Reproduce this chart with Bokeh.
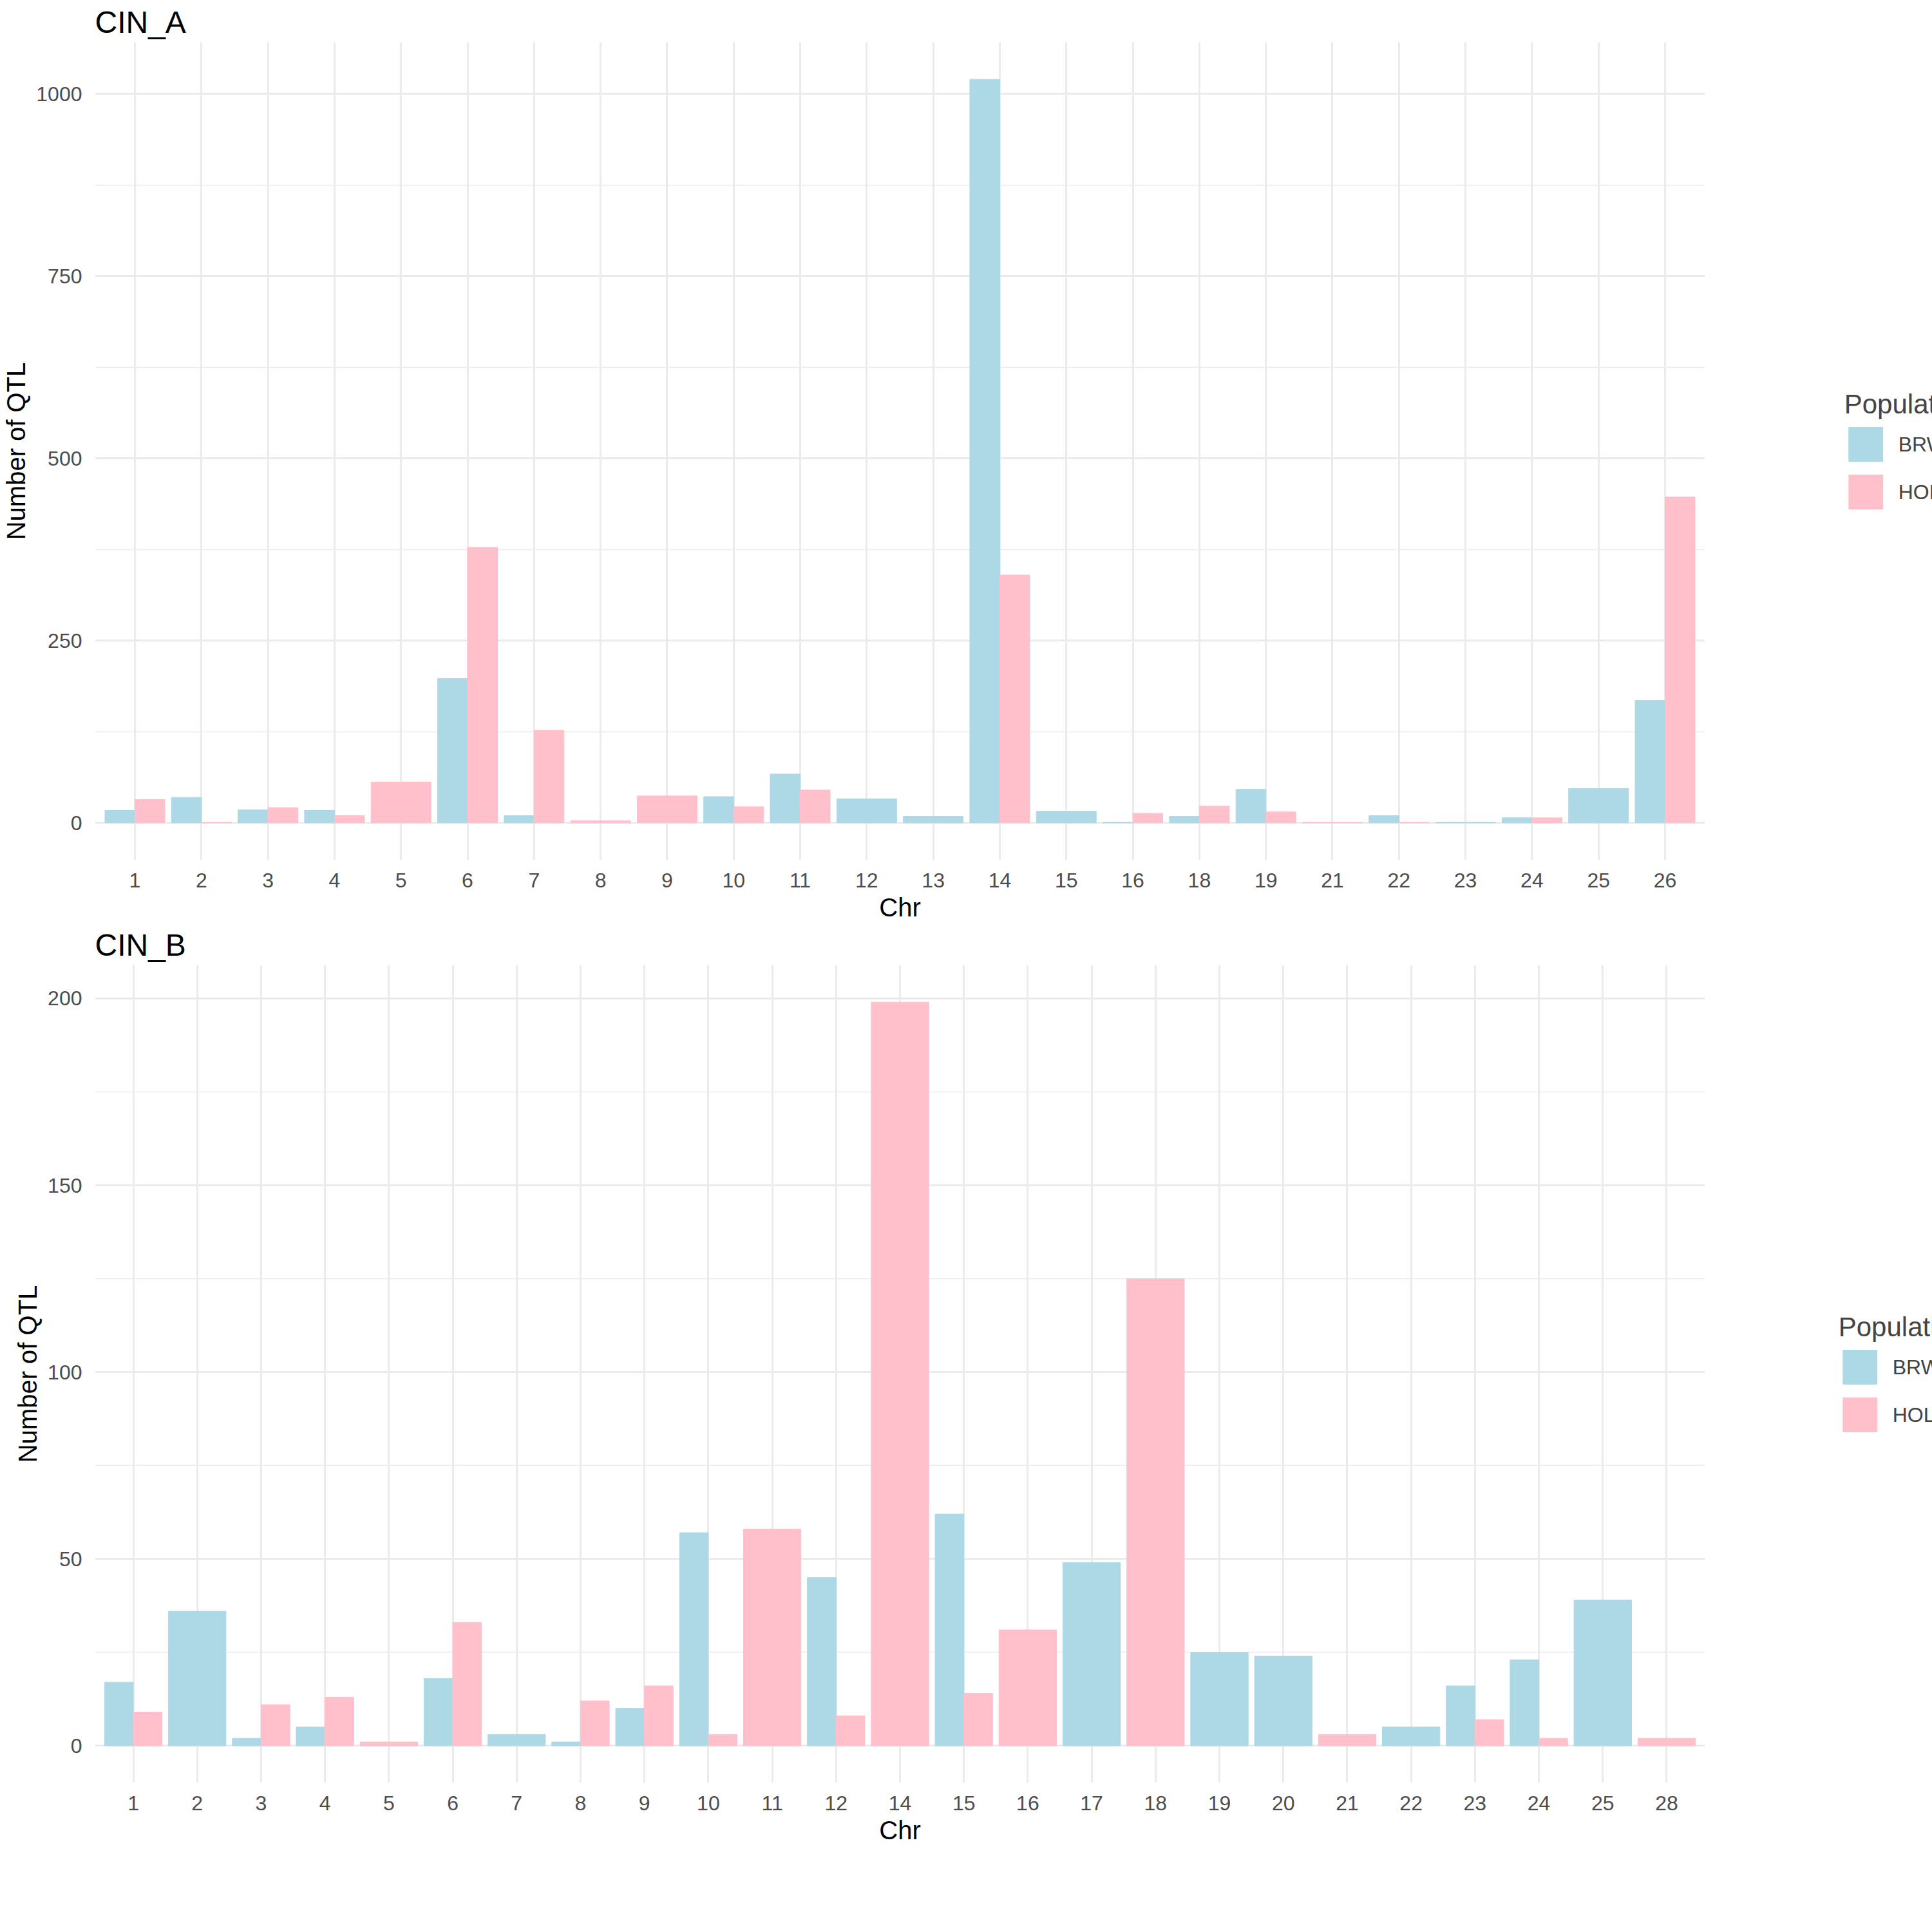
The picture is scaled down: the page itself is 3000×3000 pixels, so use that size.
from bokeh.plotting import figure
from bokeh.models import ColumnDataSource, FixedTicker, Legend, LegendItem, Range1d
from bokeh.layouts import column
from bokeh.embed import file_html
from bokeh.resources import INLINE

chr_a = ["1","2","3","4","5","6","7","8","9","10","11","12","13","14","15","16","18","19","21","22","23","24","25","26"]
brw_a = [17,35,18,17,None,198,10,None,None,36,67,33,9,1020,16,1,9,46,None,10,1,7,47,168]
hol_a = [32,1,21,10,56,378,127,3,37,22,45,None,None,340,None,13,23,15,1,1,None,7,None,447]

chr_b = ["1","2","3","4","5","6","7","8","9","10","11","12","14","15","16","17","18","19","20","21","22","23","24","25","28"]
brw_b = [17,36,2,5,None,18,3,1,10,57,None,45,None,62,None,49,None,25,24,None,5,16,23,39,None]
hol_b = [9,None,11,13,1,33,None,12,16,3,58,8,199,14,31,None,125,None,None,3,None,7,2,None,2]

BLUE = "#ADD8E6"
PINK = "#FFC0CB"
FONT = "Liberation Sans"


def panel(title, cats, brw, hol, ymax, ystep, ytop):
    p = figure(frame_width=2500, frame_height=1270, output_backend="svg", toolbar_location=None,
               min_border_left=50, min_border_top=10, min_border_bottom=20, min_border_right=10)
    bx, bt, bw, hx, ht, hw = [], [], [], [], [], []
    for i, (b, h) in enumerate(zip(brw, hol)):
        x = i + 1
        if b is not None and h is not None:
            bx.append(x - 0.225); bt.append(b); bw.append(0.45)
            hx.append(x + 0.225); ht.append(h); hw.append(0.45)
        elif b is not None:
            bx.append(x); bt.append(b); bw.append(0.9)
        elif h is not None:
            hx.append(x); ht.append(h); hw.append(0.9)
    rb = p.vbar(x="x", top="top", width="w", bottom=0, color=BLUE,
                source=ColumnDataSource(dict(x=bx, top=bt, w=bw)))
    rh = p.vbar(x="x", top="top", width="w", bottom=0, color=PINK,
                source=ColumnDataSource(dict(x=hx, top=ht, w=hw)))
    n = len(cats)
    p.x_range = Range1d(0.4, n + 0.6)
    pad = ymax * 0.05
    p.y_range = Range1d(-pad, ymax + pad)
    p.xaxis.ticker = FixedTicker(ticks=list(range(1, n + 1)))
    p.xaxis.major_label_overrides = {i + 1: c for i, c in enumerate(cats)}
    yt = [ystep * k for k in range(0, int(ytop // ystep) + 1)]
    p.yaxis.ticker = FixedTicker(ticks=yt, minor_ticks=[v + ystep / 2 for v in yt])
    for ax in (p.xaxis[0], p.yaxis[0]):
        ax.axis_line_color = None
        ax.major_tick_line_color = None
        ax.minor_tick_line_color = None
        ax.major_label_text_font = FONT
        ax.major_label_text_font_size = "32px"
        ax.major_label_text_color = "#4D4D4D"
        ax.axis_label_text_font = FONT
        ax.axis_label_text_font_size = "40px"
        ax.axis_label_text_font_style = "normal"
        ax.axis_label_text_color = "black"
        ax.major_label_standoff = 14
        ax.axis_label_standoff = 6
    p.xaxis.axis_label = "Chr"
    p.yaxis.axis_label = "Number of QTL"
    p.xgrid.grid_line_color = "#EBEBEB"
    p.xgrid.grid_line_width = 3
    p.ygrid.grid_line_color = "#EBEBEB"
    p.ygrid.grid_line_width = 3
    p.ygrid.minor_grid_line_color = "#EBEBEB"
    p.ygrid.minor_grid_line_width = 1.5
    p.outline_line_color = None
    p.title.text = title
    p.title.text_font = FONT
    p.title.text_font_size = "48px"
    p.title.text_font_style = "normal"
    p.title.text_color = "black"
    p.title.align = "left"
    leg = Legend(items=[LegendItem(label="BRW", renderers=[rb]),
                        LegendItem(label="HOL", renderers=[rh])],
                 title="Population", location="center",
                 glyph_width=66, glyph_height=66, spacing=8,
                 label_text_font=FONT, label_text_font_size="32px",
                 title_text_font=FONT, title_text_font_size="42px",
                 title_text_font_style="normal", border_line_color=None,
                 margin=20, padding=10, label_standoff=18)
    p.add_layout(leg, "right")
    return p


pa = panel("CIN_A", chr_a, brw_a, hol_a, 1020, 250, 1000)
pb = panel("CIN_B", chr_b, brw_b, hol_b, 199, 50, 200)
layout = column(pa, pb)
open("out.html", "w").write(file_html(layout, INLINE))
